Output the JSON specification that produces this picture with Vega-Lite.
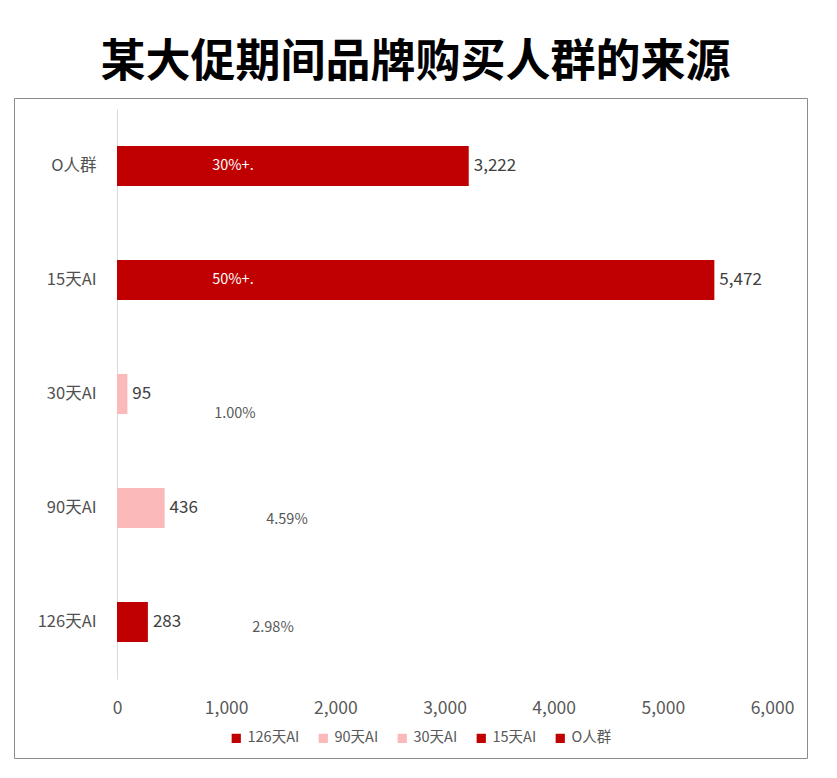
{
  "$schema": "https://vega.github.io/schema/vega-lite/v6.json",
  "autosize": "none",
  "width": 793,
  "height": 660,
  "padding": {"top": 98, "left": 14, "right": 30, "bottom": 20},
  "background": "white",
  "config": {
    "font": "Noto Sans CJK SC",
    "view": {"stroke": "#8C8C8C", "strokeWidth": 1}
  },
  "title": {
    "text": "某大促期间品牌购买人群的来源",
    "fontSize": 45,
    "fontWeight": "bold",
    "color": "#000000",
    "anchor": "middle",
    "offset": 12,
    "dx": 5,
    "font": "Noto Sans CJK SC"
  },
  "data": {
    "values": [
      {"cat": "O人群", "value": 3222, "pct": "30%+."},
      {"cat": "15天AI", "value": 5472, "pct": "50%+."},
      {"cat": "30天AI", "value": 95, "pct": "1.00%"},
      {"cat": "90天AI", "value": 436, "pct": "4.59%"},
      {"cat": "126天AI", "value": 283, "pct": "2.98%"}
    ]
  },
  "encoding": {
    "y": {
      "field": "cat",
      "type": "nominal",
      "sort": ["O人群", "15天AI", "30天AI", "90天AI", "126天AI"],
      "scale": {"range": [11, 581], "paddingInner": 0.649, "paddingOuter": 0.3245},
      "axis": {
        "title": null,
        "offset": -103,
        "domainColor": "#D9D9D9",
        "ticks": false,
        "labelPadding": 21,
        "labelFontSize": 16.5,
        "labelColor": "#505050"
      }
    }
  },
  "layer": [
    {
      "mark": {"type": "bar"},
      "encoding": {
        "x": {
          "field": "value",
          "type": "quantitative",
          "scale": {"domain": [0, 6000], "range": [103, 758], "nice": false},
          "axis": {
            "title": null,
            "offset": -78,
            "domain": false,
            "ticks": false,
            "grid": false,
            "labelPadding": 19,
            "labelFontSize": 17.5,
            "labelColor": "#595959",
            "labelFlush": false,
            "values": [0, 1000, 2000, 3000, 4000, 5000, 6000],
            "labelExpr": "format(datum.value, ',d')"
          }
        },
        "color": {
          "field": "cat",
          "type": "nominal",
          "scale": {
            "domain": ["126天AI", "90天AI", "30天AI", "15天AI", "O人群"],
            "range": ["#C00000", "#FBB9B9", "#FBB9B9", "#C00000", "#C00000"]
          },
          "legend": {
            "title": null,
            "orient": "none",
            "legendX": 215,
            "legendY": 633,
            "direction": "horizontal",
            "columns": 5,
            "symbolType": "square",
            "symbolSize": 85,
            "symbolStrokeWidth": 0,
            "labelFontSize": 14.5,
            "labelColor": "#595959",
            "labelOffset": 4,
            "columnPadding": 16
          }
        }
      }
    },
    {
      "mark": {"type": "text", "align": "left", "baseline": "middle", "dx": 5, "fontSize": 17, "color": "#404040"},
      "encoding": {
        "x": {"field": "value", "type": "quantitative"},
        "text": {"field": "value", "type": "quantitative", "format": ","}
      }
    },
    {
      "transform": [{"filter": "datum.cat === 'O人群' || datum.cat === '15天AI'"}],
      "mark": {"type": "text", "align": "center", "baseline": "middle", "fontSize": 14.5, "color": "#FFFFFF"},
      "encoding": {
        "x": {"datum": 1062, "type": "quantitative"},
        "text": {"field": "pct"}
      }
    },
    {
      "transform": [{"filter": "datum.cat === '30天AI'"}],
      "mark": {"type": "text", "align": "center", "baseline": "middle", "fontSize": 14.5, "dy": 20, "color": "#595959"},
      "encoding": {
        "x": {"datum": 1080, "type": "quantitative"},
        "text": {"field": "pct"}
      }
    },
    {
      "transform": [{"filter": "datum.cat === '90天AI'"}],
      "mark": {"type": "text", "align": "center", "baseline": "middle", "fontSize": 14.5, "dy": 12, "color": "#595959"},
      "encoding": {
        "x": {"datum": 1557, "type": "quantitative"},
        "text": {"field": "pct"}
      }
    },
    {
      "transform": [{"filter": "datum.cat === '126天AI'"}],
      "mark": {"type": "text", "align": "center", "baseline": "middle", "fontSize": 14.5, "dy": 6, "color": "#595959"},
      "encoding": {
        "x": {"datum": 1429, "type": "quantitative"},
        "text": {"field": "pct"}
      }
    }
  ]
}
